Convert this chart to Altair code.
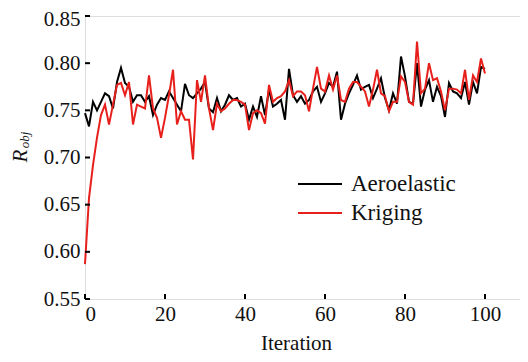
import altair as alt
import pandas as pd

iterations = list(range(101))

aeroelastic = [
    0.747, 0.733, 0.759, 0.750, 0.759, 0.768, 0.765, 0.752, 0.780, 0.795,
    0.779, 0.775, 0.759, 0.766, 0.766, 0.759, 0.765, 0.745, 0.756, 0.763,
    0.761, 0.770, 0.763, 0.756, 0.749, 0.778, 0.766, 0.763, 0.768, 0.773,
    0.780, 0.752, 0.748, 0.763, 0.749, 0.756, 0.766, 0.761, 0.763, 0.754,
    0.757, 0.740, 0.754, 0.743, 0.765, 0.745, 0.772, 0.754, 0.757, 0.761,
    0.740, 0.794, 0.766, 0.759, 0.765, 0.757, 0.761, 0.770, 0.775, 0.759,
    0.768, 0.779, 0.775, 0.791, 0.740, 0.757, 0.768, 0.777, 0.787, 0.772,
    0.775, 0.777, 0.763, 0.773, 0.784, 0.763, 0.750, 0.768, 0.757, 0.807,
    0.786, 0.759, 0.757, 0.800, 0.754, 0.772, 0.782, 0.759, 0.775, 0.765,
    0.743, 0.779, 0.770, 0.768, 0.763, 0.780, 0.756, 0.780, 0.768, 0.796,
    0.794,
]

kriging = [
    0.587, 0.657, 0.692, 0.721, 0.745, 0.756, 0.735, 0.756, 0.777, 0.779,
    0.766, 0.780, 0.735, 0.756, 0.754, 0.752, 0.787, 0.752, 0.742, 0.721,
    0.742, 0.766, 0.793, 0.735, 0.749, 0.740, 0.740, 0.698, 0.782, 0.759,
    0.787, 0.752, 0.729, 0.757, 0.749, 0.752, 0.757, 0.761, 0.761, 0.759,
    0.756, 0.729, 0.747, 0.750, 0.747, 0.736, 0.777, 0.759, 0.763, 0.765,
    0.770, 0.782, 0.765, 0.770, 0.770, 0.766, 0.749, 0.773, 0.796, 0.773,
    0.770, 0.787, 0.772, 0.787, 0.761, 0.759, 0.773, 0.780, 0.780, 0.775,
    0.770, 0.754, 0.772, 0.793, 0.768, 0.765, 0.749, 0.759, 0.759, 0.786,
    0.780, 0.759, 0.756, 0.823, 0.768, 0.773, 0.800, 0.782, 0.784, 0.770,
    0.750, 0.773, 0.773, 0.772, 0.768, 0.793, 0.761, 0.787, 0.780, 0.805,
    0.789,
]

series_names = ["Aeroelastic", "Kriging"]
series_colors = ["#000000", "#e8201c"]
x_ticks = [0, 20, 40, 60, 80, 100]
y_ticks = [0.55, 0.60, 0.65, 0.70, 0.75, 0.80, 0.85]

FONT = "Liberation Serif, Times New Roman, serif"
W, H = 435, 283

df = pd.DataFrame({
    "Iteration": iterations * 2,
    "R": aeroelastic + kriging,
    "Series": [series_names[0]] * len(iterations) + [series_names[1]] * len(iterations),
})

xs = alt.Scale(domain=[0, 108.75], nice=False, zero=False)
ys = alt.Scale(domain=[0.55, 0.85], nice=False, zero=False)

x_axis = alt.Axis(values=x_ticks, ticks=False, domain=False, grid=False,
                  labelFont=FONT, labelFontSize=21, labelPadding=4, labelColor="#111",
                  title="Iteration", titleFont=FONT, titleFontSize=21,
                  titleFontWeight="normal", titlePadding=8, titleColor="#111",
                  titleX=211)
y_axis = alt.Axis(values=y_ticks, ticks=False, domain=False, grid=False, format=".2f",
                  labelFont=FONT, labelFontSize=21, labelPadding=5, labelColor="#111",
                  labelOffset={"condition": {"test": "datum.value >= 0.849", "value": 3}, "value": 0},
                  title=None)

lines = alt.Chart(df).mark_line(strokeWidth=2).encode(
    x=alt.X("Iteration:Q", scale=xs, axis=x_axis),
    y=alt.Y("R:Q", scale=ys, axis=y_axis),
    color=alt.Color("Series:N", scale=alt.Scale(domain=series_names, range=series_colors), legend=None),
    order=alt.Order("Iteration:Q"),
)

xt = alt.Chart(pd.DataFrame({"Iteration": x_ticks})).mark_rule(color="black", strokeWidth=2).encode(
    x=alt.X("Iteration:Q", scale=xs), y=alt.value(H), y2=alt.value(H - 5))
yt = alt.Chart(pd.DataFrame({"R": y_ticks})).mark_rule(color="black", strokeWidth=2).encode(
    y=alt.Y("R:Q", scale=ys), x=alt.value(0), x2=alt.value(5))

# y-axis title R_obj (italic, subscript)
r_main = alt.Chart(pd.DataFrame({"t": ["R"]})).mark_text(
    font=FONT, fontSize=21, fontStyle="italic", angle=270, align="center", baseline="middle", color="#111"
).encode(text="t:N", x=alt.value(-64), y=alt.value(140))
r_sub = alt.Chart(pd.DataFrame({"t": ["obj"]})).mark_text(
    font=FONT, fontSize=13, fontStyle="italic", angle=270, align="center", baseline="middle", color="#111"
).encode(text="t:N", x=alt.value(-60), y=alt.value(124))

# legend
leg_y = [168, 197]
leg = []
for name, col, yy in zip(series_names, series_colors, leg_y):
    leg.append(alt.Chart(pd.DataFrame({"t": [name]})).mark_rule(color=col, strokeWidth=2).encode(
        x=alt.value(213), x2=alt.value(257), y=alt.value(yy)))
    leg.append(alt.Chart(pd.DataFrame({"t": [name]})).mark_text(
        font=FONT, fontSize=23, align="left", baseline="middle", color="#111"
    ).encode(text="t:N", x=alt.value(266), y=alt.value(yy)))

chart = alt.layer(lines, xt, yt, r_main, r_sub, *leg).properties(
    width=W, height=H,
    padding={"left": 77, "top": 8, "right": 0, "bottom": 55},
    autosize=alt.AutoSizeParams(type="none"),
).configure_view(stroke="black", strokeWidth=2).configure(background="white")

chart.save("out.html", embed_options={"renderer": "svg", "actions": False})
